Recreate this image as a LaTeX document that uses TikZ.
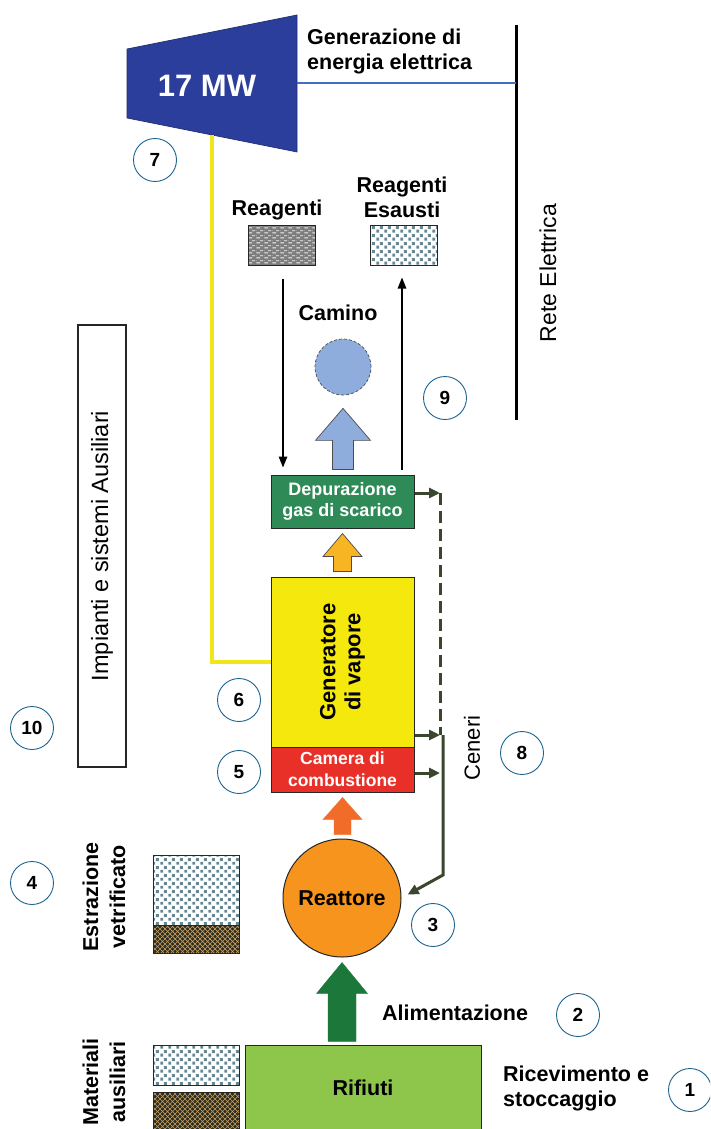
\documentclass[tikz,border=0pt]{standalone}
\usepackage{fontspec}
\setmainfont{Liberation Sans}
\usetikzlibrary{arrows.meta,calc,patterns,patterns.meta}

% fill patterns for the material bins
\tikzdeclarepattern{name=sqdots, type=uncolored,
  bounding box={(0pt,0pt) and (8pt,8pt)}, tile size={(8pt,8pt)},
  code={\fill (0.4pt,0.4pt) rectangle (3.6pt,3.6pt);
        \fill (4.4pt,4.4pt) rectangle (7.6pt,7.6pt);}}
\tikzdeclarepattern{name=dashrows, type=uncolored,
  bounding box={(0pt,0pt) and (8pt,5pt)}, tile size={(8pt,5pt)},
  code={\fill (0.5pt,0.8pt) rectangle (4.5pt,1.9pt);
        \fill (4.5pt,3.3pt) rectangle (8pt,4.4pt);
        \fill (0pt,3.3pt) rectangle (0.5pt,4.4pt);}}
\tikzdeclarepattern{name=diamondgrid, type=uncolored,
  bounding box={(-0.5pt,-0.5pt) and (5.5pt,5.5pt)}, tile size={(5pt,5pt)},
  code={\draw[line width=0.7pt] (0pt,0pt) -- (5pt,5pt) (0pt,5pt) -- (5pt,0pt);}}

\definecolor{turb}{RGB}{44,62,156}
\definecolor{elline}{RGB}{68,110,196}
\definecolor{depg}{RGB}{46,139,88}
\definecolor{geny}{RGB}{245,232,12}
\definecolor{camr}{RGB}{232,48,40}
\definecolor{reac}{RGB}{247,148,30}
\definecolor{reacar}{RGB}{240,108,40}
\definecolor{flueor}{RGB}{247,180,35}
\definecolor{stackb}{RGB}{142,172,220}
\definecolor{feedg}{RGB}{28,120,58}
\definecolor{waste}{RGB}{141,198,74}
\definecolor{numblue}{RGB}{30,100,145}
\definecolor{ashc}{RGB}{58,70,45}
\definecolor{steam}{RGB}{240,230,30}
\definecolor{dotc}{RGB}{105,135,145}
\definecolor{hatchbg}{RGB}{45,45,30}
\definecolor{hatchfg}{RGB}{200,160,100}
\definecolor{reagbg}{RGB}{125,125,125}

% upward block arrow: style, base point, tip point, head half width, shaft half width, head length
\newcommand\blockup[6]{%
  \draw[#1] let \p1=(#2), \p2=(#3) in
    (\x2,\y2) -- (\x2+#4pt,\y2-#6pt) -- (\x2+#5pt,\y2-#6pt) -- (\x2+#5pt,\y1)
    -- (\x2-#5pt,\y1) -- (\x2-#5pt,\y2-#6pt) -- (\x2-#4pt,\y2-#6pt) -- cycle;}

\begin{document}
\begin{tikzpicture}[x=1pt,y=-1pt,
  lbl/.style={font=\fontsize{21.5}{25}\selectfont\bfseries, align=center, inner sep=0pt},
  rlbl/.style={font=\fontsize{23}{27}\selectfont, align=center, inner sep=0pt, rotate=90},
  num/.style={circle, draw=numblue, line width=0.9pt, fill=white, minimum size=43pt,
    inner sep=0pt, font=\fontsize{19}{19}\selectfont\bfseries},
  unit/.style={draw=black!85, line width=1pt, inner sep=0pt},
  ash/.style={draw=ashc, line width=3pt},
  ashtip/.style={-{Triangle[length=11pt,width=10pt]}},
  feed/.style={draw=black, line width=1.4pt, -{Triangle[length=11pt,width=8.5pt]}},
  dots/.style={unit, fill=white, pattern=sqdots, pattern color=dotc},
  hatch/.style={unit, preaction={fill=hatchbg}, pattern=diamondgrid, pattern color=hatchfg},
  reag/.style={unit, preaction={fill=reagbg}, pattern=dashrows, pattern color=white!90!gray},
  blk/.style={draw=black!70, line width=0.7pt}]

\clip (0,0) rectangle (710,1129);
\fill[white] (0,0) rectangle (710,1129);

% turbo-generator
\coordinate (t1) at (127,49);
\coordinate (t2) at (297,15);
\coordinate (t3) at (297,152);
\coordinate (t4) at (127,118);
\coordinate (tout) at (297,83);
\coordinate (tbot) at (212,135);
\draw[fill=turb, draw=turb!70!black, line width=0.6pt] (t1) -- (t2) -- (t3) -- (t4) -- cycle;
\node[font=\fontsize{31}{31}\selectfont\bfseries, text=white, inner sep=0pt] (mw) at (207,86) {17 MW};

% electrical grid
\coordinate (reteT) at (516,25);
\coordinate (reteB) at (516,420);
\coordinate (reteJ) at (516,83);
\draw[line width=3pt] (reteT) -- (reteB);
\draw[elline, line width=1.8pt] (tout) -- (reteJ);
\node[lbl, align=left, anchor=west] (gen-el) at (307,51) {Generazione di\\energia elettrica};
\node[rlbl] (rete) at (548,273) {Rete Elettrica};

% flue gas line
\node[lbl] (reag-t) at (277,210) {Reagenti};
\node[lbl] (esau-t) at (402,197) {Reagenti\\Esausti};
\node[reag, minimum width=67pt, minimum height=40pt] (reag) at (281.5,245) {};
\node[dots, minimum width=67pt, minimum height=40pt] (esau) at (403.5,245) {};
\node[lbl] (cam-t) at (338,313) {Camino};
\node[circle, fill=stackb, draw=black!70, densely dashed, line width=0.7pt, minimum size=56pt] (stack) at (343,367) {};

\node[unit, fill=depg, minimum width=143pt, minimum height=53pt, text=white,
  font=\fontsize{18}{21}\selectfont\bfseries, align=center] (dep) at (342.5,501.5) {Depurazione\\gas di scarico};
\node[unit, fill=geny, minimum width=143pt, minimum height=170pt] (gen) at (342.5,662) {};
\node[lbl, rotate=90, font=\fontsize{22}{25}\selectfont\bfseries] (gen-t) at (gen.center) {Generatore\\di vapore};
\node[unit, fill=camr, minimum width=143pt, minimum height=45pt, text=white,
  font=\fontsize{17.5}{22}\selectfont\bfseries, align=center] (cam) at (342.5,769.5) {Camera di\\combustione};
\node[unit, circle, fill=reac, minimum size=118pt] (reac) at (342,898) {};
\node[lbl] (reac-t) at (reac.center) {Reattore};

\node[unit, fill=waste, minimum width=236pt, minimum height=86pt] (rif) at (363,1088) {};
\node[lbl] (rif-t) at (rif.center) {Rifiuti};

% reagent flows
\draw[feed, shorten <=13pt, shorten >=7pt] (reag.south -| 283,0) -- (dep.north -| 283,0);
\draw[feed, shorten <=5pt, shorten >=12pt] (dep.north -| 402,0) -- (esau.south -| 402,0);

% block arrows for the main process flow
\blockup{fill=stackb, blk}{$(dep.north)+(0,-5)$}{$(stack.south)+(0,13)$}{27.5}{10.5}{32}
\blockup{fill=flueor, blk}{$(gen.north)+(0,-5)$}{$(dep.south)+(0,5)$}{19.5}{9}{23}
\blockup{fill=reacar, draw=reacar}{$(reac.north)+(0,-4)$}{$(cam.south)+(0,5)$}{19.5}{8.5}{22}
\blockup{fill=feedg, draw=feedg}{$(rif.north)+(0,-3)$}{$(reac.south)+(0,5)$}{25.5}{14}{31}

% ash recirculation
\coordinate (ashtop) at (440,493);
\coordinate (ashgen) at (440,735);
\coordinate (ashcam) at (440,773);
\coordinate (ashbend) at (443,875);
\draw[ash, ashtip] (dep.east |- ashtop) -- (ashtop);
\draw[ash, dash pattern=on 12pt off 6pt] (ashtop) -- (ashgen);
\draw[ash, ashtip] (gen.east |- ashgen) -- (ashgen);
\draw[ash, ashtip] (cam.east |- ashcam) -- (ashcam);
\draw[ash, ashtip, shorten >=7pt] (443,735) -- (ashbend) -- (reac.east);
\node[rlbl, font=\fontsize{22}{25}\selectfont] (ceneri) at (472,748) {Ceneri};

% steam line to the turbine
\coordinate (stbend) at (212,662);
\draw[steam, line width=3.4pt] (gen.west) -- (stbend) -- (tbot);

% auxiliary systems
\node[unit, fill=white, line width=1.3pt, minimum width=48pt, minimum height=442pt] (aux) at (102,546) {};
\node[rlbl, font=\fontsize{23.5}{27}\selectfont] (aux-t) at (aux.center) {Impianti e sistemi Ausiliari};

% vitrified slag and auxiliary materials
\node[dots, minimum width=86pt, minimum height=70pt] (estr) at (196,890) {};
\node[hatch, minimum width=86pt, minimum height=28pt] (estrb) at (196,939) {};
\node[lbl, rotate=90, font=\fontsize{21.5}{27}\selectfont\bfseries] (estr-t) at (104,897) {Estrazione\\vetrificato};
\node[dots, minimum width=86pt, minimum height=40pt] (mata) at (196,1065) {};
\node[hatch, minimum width=86pt, minimum height=42pt] (matb) at (196,1113) {};
\node[lbl, rotate=90, font=\fontsize{21.5}{27}\selectfont\bfseries] (mat-t) at (104,1082) {Materiali\\ausiliari};

\node[lbl, anchor=west] (alim) at (382,1013) {Alimentazione};
\node[lbl, anchor=west, align=left] (ricev) at (503,1088) {Ricevimento e\\stoccaggio};

% section numbers
\node[num] (n1) at (690,1090) {1};
\node[num] (n2) at (578,1015) {2};
\node[num] (n3) at (433,925) {3};
\node[num] (n4) at (32,883) {4};
\node[num] (n5) at (239,772) {5};
\node[num] (n6) at (239,700) {6};
\node[num] (n7) at (155,160) {7};
\node[num] (n8) at (522,753) {8};
\node[num] (n9) at (445,398) {9};
\node[num] (n10) at (32,728) {10};
\end{tikzpicture}
\end{document}
